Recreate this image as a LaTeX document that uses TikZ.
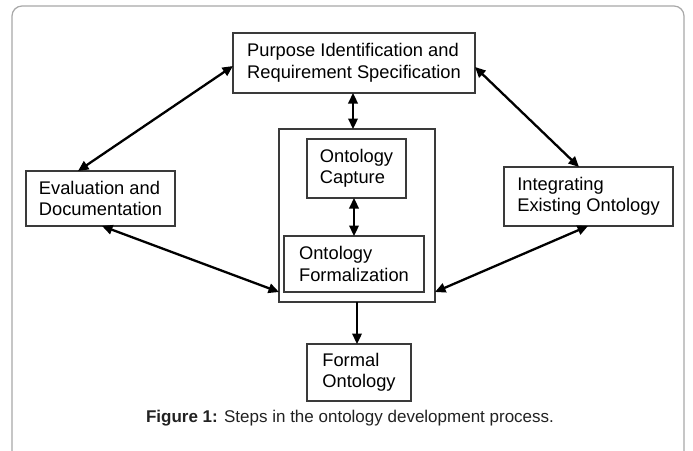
\documentclass[tikz,border=0pt]{standalone}
\usepackage{fontspec}
\setmainfont{Liberation Sans}
\usetikzlibrary{arrows.meta}
\definecolor{boxgray}{HTML}{3A3A3A}
\definecolor{framegray}{HTML}{A8A8A8}
\definecolor{captext}{HTML}{222222}
\begin{document}
\begin{tikzpicture}[x=1pt,y=-1pt,
  box/.style={draw=boxgray,line width=1.1pt,rectangle,inner sep=0pt,outer sep=0pt,align=left,font=\fontsize{18.3}{21.5}\selectfont},
  conn/.style={line width=2.3pt,{Triangle[length=10.5pt,width=9.5pt]}-{Triangle[length=10.5pt,width=9.5pt]}},
  oneway/.style={line width=2.3pt,-{Triangle[length=10.5pt,width=9.5pt]}},
]
\useasboundingbox (0,0) rectangle (693,450);
\clip (0,0) rectangle (693,450);
\fill[white] (0,0) rectangle (693,450);
\draw[framegray,line width=1.2pt,rounded corners=10pt] (12,470) -- (12,6) -- (684,6) -- (684,470);

\node[box,minimum width=242pt,minimum height=60pt] (top) at (354,63) {Purpose Identification and\\Requirement Specification};
\node[box,minimum width=156pt,minimum height=173pt] (inner) at (357,215.5) {};
\node[box,minimum width=99pt,minimum height=59pt] (capture) at (356.5,168.5) {Ontology\\Capture};
\node[box,minimum width=140pt,minimum height=56pt] (formal) at (354,264) {Ontology\\Formalization};
\node[box,minimum width=149pt,minimum height=55pt] (eval) at (100.5,198.5) {Evaluation and\\Documentation};
\node[box,minimum width=169pt,minimum height=59pt] (integ) at (588.5,196.5) {Integrating\\Existing Ontology};
\node[box,minimum width=104pt,minimum height=57pt] (fo) at (359,372.5) {Formal\\Ontology};

\draw[conn] ([xshift=-1pt]top.south) -- ([xshift=-1pt]top.south |- inner.north);
\draw[conn] (formal.north |- capture.south) -- (formal.north);
\draw[oneway] (inner.south) -- (inner.south |- fo.north);
\draw[conn] ([yshift=-3pt]top.west) -- ([xshift=-22.5pt]eval.north);
\draw[conn] ([yshift=-4pt]top.east) -- ([xshift=-9.5pt]integ.north);
\draw[conn] ([xshift=1.5pt]eval.south) -- (inner.west |- formal.south);
\draw[conn] ([xshift=-0.5pt]integ.south) -- (inner.east |- formal.south);

\node[text=captext,font=\fontsize{17}{19}\selectfont] (cap) at (350,418) {\textbf{Figure 1:} Steps in the ontology development process.};
\end{tikzpicture}
\end{document}
